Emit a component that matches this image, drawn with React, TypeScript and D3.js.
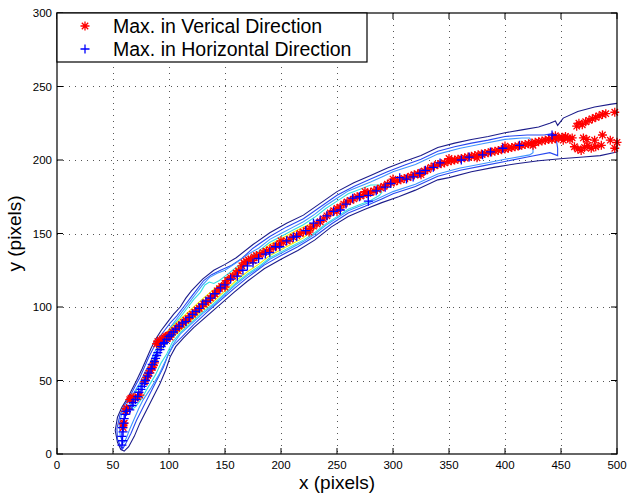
import React from 'react'
import * as d3 from 'd3'

// maxima found in vertical direction (red *)
const redX = [59, 60, 59, 61, 62, 63, 65, 66, 67, 68, 70, 72, 74,
  78, 80, 81, 82, 84, 85, 86, 87,
  89, 90, 91, 92, 93, 94, 95, 96, 97, 98, 99, 100, 101,
  103, 105, 107, 109, 111, 113, 115, 117, 119, 121, 123, 125, 127, 129, 131, 133, 135, 137, 139, 141, 143, 145, 147, 150, 152, 155, 157, 160, 162,
  165, 167, 169, 171, 173, 176, 178, 181, 184, 187, 190, 193, 196, 199, 202, 205, 208, 211, 214, 217, 220, 223, 226, 229, 232, 235, 238, 241, 244, 247, 250,
  253, 256, 259, 262, 265, 268, 271, 274, 277, 280, 283, 286, 289, 292, 295, 298, 301, 304, 307, 310, 313, 316, 319, 322, 325, 328, 331, 334, 337, 340,
  343, 346, 349, 352, 355, 358, 361, 364, 367, 370, 373, 376, 379, 382, 385, 388, 391, 394, 397, 400, 403, 406, 409, 412, 415, 418, 421, 424, 427, 430,
  433, 436, 439, 442, 445, 448, 451, 454, 456, 458, 460,
  150, 175, 200, 225, 250, 275, 300, 325, 350, 375, 400, 425, 445, 452,
  462, 465, 468, 471, 474, 477, 481, 486, 470, 473, 480, 487, 494, 498, 500,
  466, 469, 472, 475, 478, 481, 484, 487, 490, 498, 464]
const redY = [18, 21, 20.5, 29, 31, 30.5, 37, 38, 37, 38.5, 38, 39, 40,
  49, 52, 53.5, 55, 57, 59, 60.5, 62,
  75, 76.5, 75, 77.5, 76, 78, 77, 79, 80, 78.5, 80.5, 81, 79.5,
  83, 84, 85.5, 87, 88, 89.5, 91, 92, 94, 95, 96.5, 98, 99, 100.5, 102, 103, 104.5, 106, 107.5, 109, 111, 112.5, 114, 116, 118, 120, 121, 123, 124.5,
  128, 130, 131, 132, 132.5, 134, 135, 135.5, 137, 138, 139, 140.5, 141.5, 143, 144, 145, 146, 147.5, 148.5, 150, 151, 152, 153.5, 155, 156.5, 158, 160, 162, 164, 165.5, 167,
  168, 170, 171.5, 172.5, 173.5, 175, 175.5, 176.5, 177.5, 178, 179, 180, 181, 182, 183.5, 184.5, 185, 186, 186.5, 187.5, 188, 189, 190, 190.5, 191.5, 192.5, 193.5, 195, 196, 197,
  197.5, 198, 199, 199.5, 200, 200.5, 201, 201.5, 202, 202.5, 203, 203.5, 204, 204.5, 205, 205.5, 206, 206.5, 207, 207.5, 208, 208.5, 209, 209.5, 210, 210.5, 211, 211.5, 212, 212.5,
  213, 213.5, 214, 214, 214.5, 215, 215.5, 216, 215, 214, 215,
  113.5, 131.5, 145, 151, 165, 178.5, 187, 190, 201, 201.5, 209.5, 210, 216.5, 213.5,
  209, 207.5, 206.5, 208.5, 210, 208, 209, 210, 215, 214, 213.5, 217, 213.5, 208, 212,
  225, 224, 226, 227, 228, 229, 230, 231, 231.5, 232.5, 223]

// maxima found in horizontal direction (blue +)
const blueX = [58, 58.5, 58, 59, 58.5, 59.5, 60, 61, 62,
  65, 67, 68, 70, 72, 73, 75, 76, 78, 79, 81, 82, 84, 85, 87, 88, 89, 90, 92, 93, 95, 96, 98, 100,
  102, 104, 106, 109, 112, 115, 118, 121, 124, 127, 130, 133, 137, 141, 146, 150, 155, 161, 166, 170, 175, 180, 186, 190, 195, 199,
  205, 211, 214, 222, 229, 235, 241, 247, 253, 258, 264, 270, 278, 278, 285, 293, 298, 306, 312, 318, 324, 329, 336, 342,
  361, 368, 380, 387, 398, 413, 442]
const blueY = [6, 9, 12, 15, 18, 21, 24, 27, 29,
  30, 33, 35, 37, 39, 42, 44, 46, 48, 50, 53, 55, 58, 61, 63, 65, 67, 69, 71, 73, 75, 76, 78, 80,
  81, 83, 85, 87, 89, 90, 93, 95, 97, 99, 102, 104, 106, 109, 113, 115, 119, 121, 125, 128, 130, 133, 136, 137, 141, 141,
  145, 147.5, 148, 152, 157, 159, 162, 165, 166, 170, 174, 175, 176, 172, 179, 181.5, 184, 188, 187, 188.5, 191, 193, 195, 198,
  200, 202, 203.5, 205.5, 208, 210, 217]

// contour lines of the ridge, outermost to innermost
const contourNavy = [[500, 205.5], [485, 203], [470, 202], [452, 201], [430, 199.5], [410, 197.5], [390, 195], [370, 192], [350, 188], [340, 186.5],
  [320, 179.5], [305, 175], [290, 171], [275, 166.5], [260, 161.5], [245, 154.5], [230, 145.5], [215, 138.5], [200, 132.5], [185, 126], [170, 117.5],
  [158, 110], [146, 102], [134, 94], [122, 86], [113, 79], [106, 73], [101, 66], [97, 57], [92, 48], [86, 39], [80, 30], [74, 21], [69, 12], [64, 5],
  [60, 2], [57, 3], [54, 8], [52, 16], [54, 25], [58, 32], [63, 38], [67, 44], [71, 50], [76, 58], [80, 65], [84, 72], [88, 78], [93, 84], [98, 89],
  [104, 95], [110, 100], [115, 106], [120, 111], [130, 119], [140, 125], [150, 129], [160, 133.5], [175, 142.5], [190, 150.5], [205, 157], [220, 162.5],
  [235, 170.5], [250, 178.5], [265, 184.5], [280, 189.5], [295, 194.5], [310, 199], [325, 203], [340, 208.5], [355, 211.5], [370, 214], [385, 216],
  [400, 218.5], [415, 220.5], [430, 222.5], [440, 225], [445, 226.5], [447, 223.5], [452, 228.5], [465, 233], [480, 236], [495, 238], [500, 238.5]]
const contourBlue = [[57, 5], [54, 10], [53.5, 17], [56, 26], [60, 33], [65, 39], [69, 45], [74, 52], [78, 59], [82, 66], [86, 72], [91, 79], [96, 84],
  [101, 89], [107, 94], [113, 100], [119, 106], [125, 112], [131, 118], [138, 122], [146, 125], [155, 128], [165, 133], [175, 140], [190, 148],
  [205, 154.5], [220, 160], [235, 168], [250, 176], [265, 182], [280, 187], [295, 192], [310, 196.5], [325, 200.5], [340, 206], [355, 209],
  [370, 211.5], [385, 213.5], [400, 216], [420, 217], [435, 217], [442, 218], [446, 213], [447, 208],
  [447, 203], [440, 205], [420, 202], [400, 199], [380, 196], [360, 193], [340, 189], [320, 182], [300, 177], [290, 173.5], [275, 168.5], [260, 164],
  [245, 156.5], [230, 148], [215, 141], [200, 135], [185, 128.5], [170, 120], [158, 112.5], [146, 104.5], [134, 96.5], [122, 88], [112, 80], [104, 74],
  [99, 67], [95, 59], [89, 50], [83, 41], [77, 32], [71, 23], [66, 14], [62, 8], [59, 4]]
const contourLightBlue = [[59, 8], [56.5, 12], [55.5, 20], [58, 28], [63, 35], [68, 41], [73, 47], [78, 55], [83, 62], [87, 69], [91, 75], [96, 80],
  [101, 86], [106, 91], [112, 97], [118, 103], [124, 109], [130, 115], [136, 120], [143, 123], [150, 125], [160, 130], [170, 135.5], [180, 140],
  [190, 146], [200, 150], [210, 154], [220, 158], [230, 163], [240, 169], [250, 174], [260, 179], [270, 182], [280, 185], [290, 188.5], [300, 192],
  [320, 197], [340, 204], [360, 208], [380, 211], [400, 214], [415, 215], [422, 215], [425, 211],
  [425, 205], [422, 203.5], [400, 200.5], [380, 197.5], [360, 194.5], [340, 190.5], [320, 183.5], [300, 178.5], [290, 175], [280, 171.5], [270, 168.5],
  [260, 165.5], [250, 160.5], [240, 155.5], [230, 149.5], [220, 144.5], [210, 140.5], [200, 136.5], [190, 132.5], [180, 126.5], [170, 121.5],
  [160, 115.5], [150, 108.5], [140, 101.5], [130, 95.5], [120, 88.5], [110, 81.5], [104, 75], [100, 69], [96, 62], [91, 54], [84, 45], [77, 37],
  [73, 31], [69, 24], [65, 17], [62, 11], [60, 8]]
const contourCyan = [[66, 32], [65, 36], [69, 41], [74.5, 47], [80.5, 56], [86, 64], [89.5, 71], [94, 77], [99.5, 83], [104, 88], [110, 93], [116, 99],
  [122, 105], [128, 110], [132, 115], [136, 117], [140, 116], [145, 118], [150, 121], [160, 127], [170, 133], [180, 138], [190, 144], [200, 148],
  [210, 152], [220, 156], [230, 161], [240, 167], [250, 172], [260, 177], [270, 180], [280, 183], [288, 183],
  [290, 178], [288, 176], [280, 172.5], [270, 169.5], [260, 166.5], [250, 161.5], [240, 156.5], [230, 150.5], [220, 145.5], [210, 141.5],
  [200, 137.5], [190, 133.5], [180, 127.5], [170, 122.5], [160, 116.5], [150, 109.5], [140, 102.5], [130, 96.5], [120, 89.5], [110, 82.5],
  [103, 76], [98, 68], [93, 62], [88, 54], [81, 45], [75, 37], [70, 32], [67, 30.5]]
const contourYellow = [[90, 75], [93, 78.5], [100, 84.5], [110, 91.5], [120, 98.5], [130, 105.5], [140, 112], [150, 118.5], [160, 125.5],
  [170, 131.5], [180, 136.5], [190, 142.5], [200, 146.5], [210, 150.5], [220, 154.5], [228, 157],
  [230, 153], [228, 152], [220, 147], [210, 143], [200, 139], [190, 135], [180, 129], [170, 124], [160, 118], [150, 111], [140, 104],
  [130, 98], [120, 91], [110, 84], [100, 77], [94, 72], [90, 72]]

const xTicks = [0, 50, 100, 150, 200, 250, 300, 350, 400, 450, 500]
const yTicks = [0, 50, 100, 150, 200, 250, 300]
const legendLabels = ['Max. in Verical Direction', 'Max. in Horizontal Direction']

const font = 'Liberation Sans, Arial, Helvetica, sans-serif'
const asterisk = 'M-4.5,0H4.5M0,-4.5V4.5M-3.2,-3.2L3.2,3.2M-3.2,3.2L3.2,-3.2'
const plus = 'M-4.5,0H4.5M0,-4.5V4.5'

export default function App() {
  const x = d3.scaleLinear().domain([0, 500]).range([57, 617])
  const y = d3.scaleLinear().domain([0, 300]).range([454, 13])
  const line = d3.line<number[]>().x(d => x(d[0])).y(d => y(d[1]))

  const left = x.range()[0], right = x.range()[1]
  const top = y.range()[1], bottom = y.range()[0]

  const rings = [
    { pts: contourNavy, color: '#1c1c8a', closed: false },
    { pts: contourBlue, color: '#2848f0', closed: true },
    { pts: contourLightBlue, color: '#3f95ff', closed: true },
    { pts: contourCyan, color: '#33e0e0', closed: true },
    { pts: contourYellow, color: '#f0f000', closed: true },
  ]

  return (
    <svg width={628} height={494} style={{ position: 'absolute', left: 0, top: 0, background: '#fff' }}>
      <defs>
        <clipPath id="plot">
          <rect x={left} y={top} width={right - left} height={bottom - top} />
        </clipPath>
      </defs>
      <rect x={0} y={0} width={628} height={494} fill="#fff" />

      {/* grid */}
      <g stroke="#555" strokeWidth={1} strokeDasharray="1 5">
        {xTicks.slice(1, -1).map(t => (
          <line key={'gx' + t} x1={Math.round(x(t)) + 0.5} x2={Math.round(x(t)) + 0.5} y1={top} y2={bottom} />
        ))}
        {yTicks.slice(1, -1).map(t => (
          <line key={'gy' + t} x1={left} x2={right} y1={Math.round(y(t)) + 0.5} y2={Math.round(y(t)) + 0.5} />
        ))}
      </g>

      {/* contours */}
      <g clipPath="url(#plot)" fill="none" strokeWidth={1.1}>
        {rings.map((r, i) => (
          <path key={i} d={line(r.pts) + (r.closed ? 'Z' : '')} stroke={r.color} />
        ))}
      </g>

      {/* markers */}
      <g stroke="#ff0000" strokeWidth={1.3} fill="none">
        {redX.map((v, i) => (
          <path key={'r' + i} d={asterisk} transform={`translate(${x(v)},${y(redY[i])})`} />
        ))}
      </g>
      <g stroke="#0000ff" strokeWidth={1.3} fill="none">
        {blueX.map((v, i) => (
          <path key={'b' + i} d={plus} transform={`translate(${x(v)},${y(blueY[i])})`} />
        ))}
      </g>

      {/* axes box and ticks */}
      <rect x={left} y={top} width={right - left} height={bottom - top} fill="none" stroke="#000" strokeWidth={1.2} />
      <g stroke="#000" strokeWidth={1}>
        {xTicks.map(t => (
          <g key={'tx' + t}>
            <line x1={x(t)} x2={x(t)} y1={bottom} y2={bottom - 6} />
            <line x1={x(t)} x2={x(t)} y1={top} y2={top + 6} />
          </g>
        ))}
        {yTicks.map(t => (
          <g key={'ty' + t}>
            <line x1={left} x2={left + 6} y1={y(t)} y2={y(t)} />
            <line x1={right} x2={right - 6} y1={y(t)} y2={y(t)} />
          </g>
        ))}
      </g>
      <g fontFamily={font} fontSize={11.5} fill="#000">
        {xTicks.map(t => (
          <text key={'lx' + t} x={x(t)} y={bottom + 15} textAnchor="middle">{t}</text>
        ))}
        {yTicks.map(t => (
          <text key={'ly' + t} x={left - 5} y={y(t) + 4} textAnchor="end">{t}</text>
        ))}
      </g>
      <text x={(left + right) / 2} y={489} textAnchor="middle" fontFamily={font} fontSize={19}>x (pixels)</text>
      <text transform={`translate(21,${(top + bottom) / 2}) rotate(-90)`} textAnchor="middle" fontFamily={font} fontSize={19}>y (pixels)</text>

      {/* legend */}
      <g>
        <rect x={left} y={top} width={310} height={49} fill="#fff" stroke="#000" strokeWidth={1.2} />
        <path d={asterisk} transform={`translate(85,26)`} stroke="#ff0000" strokeWidth={1.3} fill="none" />
        <path d={plus} transform={`translate(85,49)`} stroke="#0000ff" strokeWidth={1.3} fill="none" />
        {legendLabels.map((s, i) => (
          <text key={s} x={113} y={33 + i * 23} fontFamily={font} fontSize={19.5}>{s}</text>
        ))}
      </g>
    </svg>
  )
}
